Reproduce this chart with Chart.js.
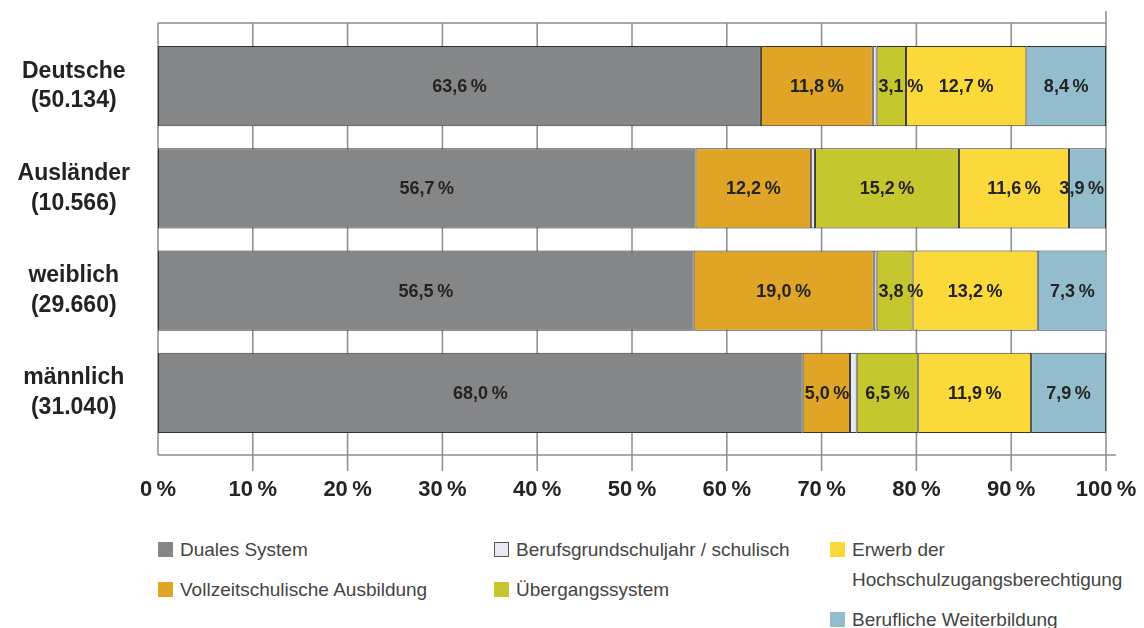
<!DOCTYPE html>
<html lang="de">
<head>
<meta charset="utf-8">
<title>Ausbildungssektoren nach Gruppen</title>
<script src="https://cdn.jsdelivr.net/npm/chart.js@4.4.0/dist/chart.umd.min.js"></script>
<style>
    html, body { margin: 0; padding: 0; background: #fff; }
    #wrap { position: relative; width: 1144px; height: 628px; overflow: hidden; }
    #chart { position: absolute; left: 0; top: 0; }
    .legend-col { position: absolute; top: 535px; width: 320px; }
    .legend-item {
        position: relative; padding-left: 22px; margin-bottom: 10px;
        font: 19px "Liberation Sans", Arial, sans-serif; line-height: 30px; color: #444;
        max-width: 300px;
    }
    .legend-item i {
        position: absolute; left: 0; top: 7px; width: 15px; height: 15px; box-sizing: border-box;
    }
</style>
</head>
<body>
<div id="wrap">
    <canvas id="chart" width="1144" height="520"></canvas>
    <div id="legend"></div>
</div>
<script>
// ─── Data ─────────────────────────────────────────────────────────────────────
const groups  = ['Deutsche', 'Ausländer', 'weiblich', 'männlich'];
const counts  = ['(50.134)', '(10.566)', '(29.660)', '(31.040)'];

const sectors = [
    'Duales System',
    'Vollzeitschulische Ausbildung',
    'Berufsgrundschuljahr / schulisch',
    'Übergangssystem',
    'Erwerb der Hochschulzugangsberechtigung',
    'Berufliche Weiterbildung'
];

const dualesSystem    = [63.6, 56.7, 56.5, 68.0];
const vollzeitschule  = [11.8, 12.2, 19.0,  5.0];
const berufsgrundjahr = [ 0.4,  0.4,  0.3,  0.7];
const uebergang       = [ 3.1, 15.2,  3.8,  6.5];
const hochschulzugang = [12.7, 11.6, 13.2, 11.9];
const weiterbildung   = [ 8.4,  3.9,  7.3,  7.9];

const xTicks = [0, 10, 20, 30, 40, 50, 60, 70, 80, 90, 100];

// ─── Styles ───────────────────────────────────────────────────────────────────
const COLORS = ['#858688', '#E0A526', '#E9E9F3', '#C6C62E', '#FBD93A', '#93BDCD'];
const GRID   = '#8c8c8c';
const INK    = '#232323';
const FONT   = '"Liberation Sans", Arial, sans-serif';

const series = [dualesSystem, vollzeitschule, berufsgrundjahr, uebergang, hochschulzugang, weiterbildung];
const noLabel = [false, false, true, false, false, false];

const fmt = v => v.toFixed(1).replace('.', ',') + '\u2009%';

// ─── Frame + grid (drawn under the bars) ──────────────────────────────────────
const gridPlugin = {
    id: 'gridFrame',
    beforeDatasetsDraw(chart) {
        const { ctx, chartArea: a, scales: { x } } = chart;
        const top = a.top - 12, bot = a.bottom + 11;
        ctx.save();
        ctx.strokeStyle = GRID;
        ctx.lineWidth = 1.5;
        const line = (x0, y0, x1, y1) => {
            ctx.beginPath(); ctx.moveTo(x0, y0); ctx.lineTo(x1, y1); ctx.stroke();
        };
        x.ticks.forEach((t, i) => {
            const px = x.getPixelForValue(t.value);
            const y0 = i === x.ticks.length - 1 ? a.top - 24 : top;
            const y1 = i === 0 ? bot : bot + 16;
            line(px, y0, px, y1);
        });
        line(a.left, top, a.right, top);
        line(a.left, bot, a.right + 10, bot);
        ctx.restore();
    }
};

// ─── Value labels inside segments ─────────────────────────────────────────────
const labelPlugin = {
    id: 'segLabels',
    afterDatasetsDraw(chart) {
        const { ctx, chartArea: a } = chart;
        ctx.save();
        ctx.font = 'bold 18px ' + FONT;
        ctx.fillStyle = INK;
        ctx.textAlign = 'center';
        ctx.textBaseline = 'middle';
        chart.data.datasets.forEach((ds, di) => {
            if (noLabel[di]) return;
            chart.getDatasetMeta(di).data.forEach((bar, i) => {
                const txt = fmt(ds.data[i]);
                const w = ctx.measureText(txt).width;
                const left = Math.min(bar.x, bar.base), right = Math.max(bar.x, bar.base);
                let tx = (left + right) / 2;
                if (w + 4 > right - left) {
                    tx = left + 2 + w / 2;
                    if (tx + w / 2 > a.right) tx = a.right - 2 - w / 2;
                }
                ctx.fillText(txt, tx, bar.y + 1);
            });
        });
        ctx.restore();
    }
};

// ─── Chart ────────────────────────────────────────────────────────────────────
const datasets = sectors.map((name, i) => ({
    label: name,
    data: series[i],
    backgroundColor: COLORS[i],
    borderColor: '#333',
    borderWidth: 1,
    borderSkipped: false,
    categoryPercentage: 1,
    barPercentage: 0.785
}));

new Chart(document.getElementById('chart').getContext('2d'), {
    type: 'bar',
    data: { labels: groups.map((g, i) => [g, counts[i]]), datasets },
    options: {
        indexAxis: 'y',
        responsive: false,
        animation: false,
        layout: { padding: { top: 35, right: 38, left: 0, bottom: 0 } },
        plugins: { legend: { display: false }, tooltip: { enabled: false } },
        scales: {
            x: {
                stacked: true, min: 0, max: 100,
                afterBuildTicks: s => { s.ticks = xTicks.map(v => ({ value: v })); },
                ticks: {
                    callback: v => v + '\u2009%',
                    font: { family: FONT, size: 22, weight: 'bold' },
                    color: INK, padding: 33, maxRotation: 0, autoSkip: false
                },
                grid: { display: false, drawTicks: false },
                border: { display: false },
                afterFit: s => { s.height = 76; s.paddingLeft = 0; s.paddingRight = 0; }
            },
            y: {
                stacked: true,
                ticks: {
                    font: { family: FONT, size: 23, weight: 'bold', lineHeight: 1.3 },
                    color: INK, crossAlign: 'center', padding: 28
                },
                grid: { display: false, drawTicks: false },
                border: { display: false },
                afterFit: s => { s.width = 158; s.paddingTop = 0; s.paddingBottom = 0; }
            }
        }
    },
    plugins: [gridPlugin, labelPlugin]
});

// ─── Legend (three columns, two entries each) ─────────────────────────────────
const legendX = [158, 494, 830];
const legend = document.getElementById('legend');
legendX.forEach((x, c) => {
    const col = document.createElement('div');
    col.className = 'legend-col';
    col.style.left = x + 'px';
    [0, 1].forEach(r => {
        const i = c * 2 + r;
        const item = document.createElement('div');
        item.className = 'legend-item';
        const sw = document.createElement('i');
        sw.style.background = COLORS[i];
        if (i === 2) sw.style.border = '1px solid #555';
        item.appendChild(sw);
        item.appendChild(document.createTextNode(sectors[i]));
        col.appendChild(item);
    });
    legend.appendChild(col);
});
</script>
</body>
</html>
